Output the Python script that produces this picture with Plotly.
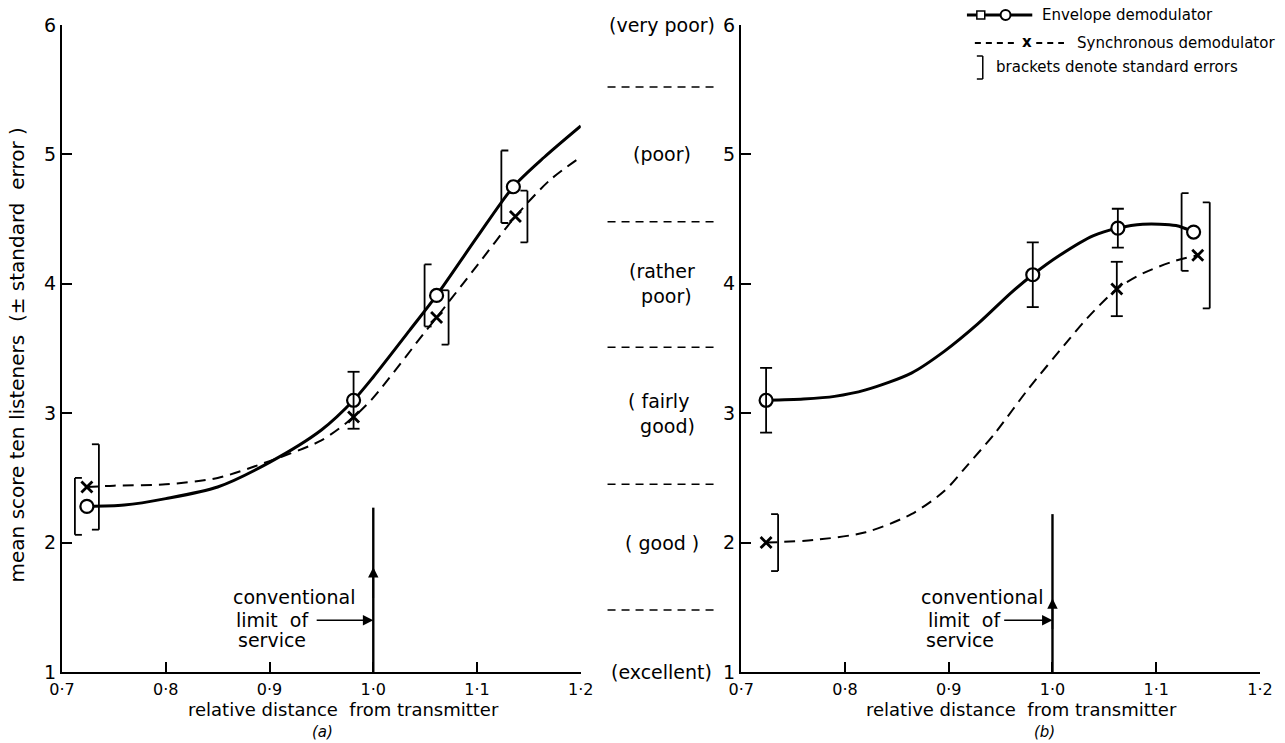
import plotly.graph_objects as go

# ---------------- data ----------------
X_TICKS = [0.7, 0.8, 0.9, 1.0, 1.1, 1.2]
X_TICK_TEXT = ["0·7", "0·8", "0·9", "1·0", "1·1", "1·2"]
Y_TICKS = [1, 2, 3, 4, 5, 6]
Y_TICK_TEXT = ["1", "2", "3", "4", "5", "6"]

SCORE_VALUES = [1, 2, 3, 4, 5, 6]
SCORE_LABELS = ["(excellent)", "( good )", "( fairly<br>  good)", "(rather<br>  poor)", "(poor)", "(very poor)"]
BAND_EDGES = [1.48, 2.45, 3.51, 4.48, 5.52]
SERVICE_LIMIT = 1.0

# panel (a): measured points (score) and standard errors
A_ENV_X = [0.724, 0.981, 1.061, 1.135]
A_ENV_Y = [2.28, 3.10, 3.91, 4.75]
A_ENV_SE = [0.22, 0.22, 0.24, 0.28]
A_SYN_X = [0.724, 0.981, 1.061, 1.137]
A_SYN_Y = [2.43, 2.97, 3.74, 4.52]
A_SYN_SE = [0.33, 0.0, 0.21, 0.20]

# panel (a): drawn smooth curves
A_ENV_CURVE_X = [0.724, 0.76, 0.80, 0.85, 0.90, 0.95, 0.981, 1.00, 1.035, 1.061, 1.10, 1.135, 1.165, 1.20]
A_ENV_CURVE_Y = [2.28, 2.29, 2.34, 2.43, 2.62, 2.87, 3.10, 3.28, 3.64, 3.91, 4.36, 4.75, 4.98, 5.22]
A_SYN_CURVE_X = [0.724, 0.75, 0.80, 0.85, 0.90, 0.95, 0.981, 1.00, 1.05, 1.061, 1.10, 1.137, 1.17, 1.20]
A_SYN_CURVE_Y = [2.43, 2.44, 2.45, 2.50, 2.63, 2.79, 2.97, 3.12, 3.63, 3.74, 4.14, 4.52, 4.80, 4.98]

# panel (b): measured points and standard errors
B_ENV_X = [0.724, 0.981, 1.063, 1.136]
B_ENV_Y = [3.10, 4.07, 4.43, 4.40]
B_ENV_SE = [0.25, 0.25, 0.15, 0.30]
B_SYN_X = [0.724, 1.062, 1.140]
B_SYN_Y = [2.00, 3.96, 4.22]
B_SYN_SE = [0.22, 0.21, 0.41]

# panel (b): drawn smooth curves
B_ENV_CURVE_X = [0.724, 0.76, 0.79, 0.82, 0.864, 0.896, 0.928, 0.96, 0.981, 1.007, 1.039, 1.063, 1.087, 1.119, 1.136]
B_ENV_CURVE_Y = [3.10, 3.11, 3.13, 3.18, 3.31, 3.48, 3.69, 3.93, 4.07, 4.22, 4.37, 4.43, 4.46, 4.45, 4.40]
B_SYN_CURVE_X = [0.724, 0.77, 0.82, 0.864, 0.896, 0.915, 0.945, 0.976, 1.017, 1.033, 1.062, 1.087, 1.119, 1.140]
B_SYN_CURVE_Y = [2.00, 2.02, 2.08, 2.22, 2.40, 2.57, 2.85, 3.18, 3.58, 3.73, 3.96, 4.08, 4.18, 4.22]

# ---------------- styles ----------------
# error-bar drawing style for each point: 'I' plain bar, '[' bracket left, ']' bracket right
A_ENV_BAR = ['[', 'I', '[', '[']
A_SYN_BAR = [']', None, ']', ']']
B_ENV_BAR = ['I', 'I', 'I', '[']
B_SYN_BAR = [']', 'I', ']']

FONT = "DejaVu Sans"
W, H = 1285, 743
ML, MR, MT, MB = 62, 13, 25, 71
PW, PH = W - ML - MR, H - MT - MB


def px_x(px):
    return (px - ML) / PW


def px_y(py):
    return (H - MB - py) / PH


fig = go.Figure()

shapes = []
annotations = []


def add_panel(xa, ya, env_cx, env_cy, syn_cx, syn_cy, env_x, env_y, syn_x, syn_y):
    fig.add_trace(go.Scatter(x=syn_cx, y=syn_cy, mode="lines", xaxis=xa, yaxis=ya,
                             line=dict(color="black", width=2.0, dash="11px,7px", shape="spline", smoothing=0.8),
                             hoverinfo="skip"))
    fig.add_trace(go.Scatter(x=env_cx, y=env_cy, mode="lines", xaxis=xa, yaxis=ya,
                             line=dict(color="black", width=3.0, shape="spline", smoothing=0.8),
                             hoverinfo="skip"))
    fig.add_trace(go.Scatter(x=syn_x, y=syn_y, mode="markers", xaxis=xa, yaxis=ya,
                             marker=dict(symbol="x-thin", size=11, line=dict(color="black", width=2.8))))
    fig.add_trace(go.Scatter(x=env_x, y=env_y, mode="markers", xaxis=xa, yaxis=ya,
                             marker=dict(symbol="circle", size=13, color="white",
                                         line=dict(color="black", width=2.2))))


def bar_shapes(xs, ys, ses, styles, xref, yref):
    for x, y, s, st in zip(xs, ys, ses, styles):
        if st is None:
            continue
        if st == "I":
            off, serif = 0, (-6, 6)
        elif st == "[":
            off, serif = -12, (-12, -5)
        else:
            off, serif = 12, (5, 12)
        base = dict(type="line", xref=xref, yref=yref, xsizemode="pixel", xanchor=x,
                    line=dict(color="black", width=1.8))
        shapes.append(dict(base, x0=off, x1=off, y0=y - s, y1=y + s))
        shapes.append(dict(base, x0=serif[0], x1=serif[1], y0=y + s, y1=y + s))
        shapes.append(dict(base, x0=serif[0], x1=serif[1], y0=y - s, y1=y - s))


add_panel("x", "y", A_ENV_CURVE_X, A_ENV_CURVE_Y, A_SYN_CURVE_X, A_SYN_CURVE_Y,
          A_ENV_X, A_ENV_Y, A_SYN_X, A_SYN_Y)
add_panel("x2", "y2", B_ENV_CURVE_X, B_ENV_CURVE_Y, B_SYN_CURVE_X, B_SYN_CURVE_Y,
          B_ENV_X, B_ENV_Y, B_SYN_X, B_SYN_Y)

bar_shapes(A_ENV_X, A_ENV_Y, A_ENV_SE, A_ENV_BAR, "x", "y")
bar_shapes(A_SYN_X, A_SYN_Y, A_SYN_SE, A_SYN_BAR, "x", "y")
bar_shapes(B_ENV_X, B_ENV_Y, B_ENV_SE, B_ENV_BAR, "x2", "y2")
bar_shapes(B_SYN_X, B_SYN_Y, B_SYN_SE, B_SYN_BAR, "x2", "y2")

# conventional limit of service markers
for xr, yr, top, head_y, arrow_from in [("x", "y", 2.27, 1.81, 0.944),
                                        ("x2", "y2", 2.22, 1.57, 0.952)]:
    shapes.append(dict(type="line", xref=xr, yref=yr, x0=SERVICE_LIMIT, x1=SERVICE_LIMIT, y0=1, y1=top,
                       line=dict(color="black", width=2.4)))
    annotations.append(dict(xref=xr, yref=yr, axref=xr, ayref=yr, x=SERVICE_LIMIT, y=head_y,
                            ax=SERVICE_LIMIT, ay=head_y - 0.25, text="", showarrow=True,
                            arrowhead=2, arrowsize=1.3, arrowwidth=1.6, arrowcolor="black"))
    annotations.append(dict(xref=xr, yref=yr, axref=xr, ayref=yr, x=SERVICE_LIMIT, y=1.40,
                            ax=arrow_from, ay=1.40, text="", showarrow=True,
                            arrowhead=2, arrowsize=1.3, arrowwidth=1.6, arrowcolor="black"))

txt_font = dict(family=FONT, size=19, color="black")
# panel (a) labels (right-aligned)
for t, xv, yv in [("conventional", 0.9846, 1.58), ("limit  of", 0.940, 1.40), ("service", 0.937, 1.25)]:
    annotations.append(dict(xref="x", yref="y", x=xv, y=yv, text=t, showarrow=False,
                            xanchor="right", yanchor="middle", font=txt_font))
# panel (b) labels (left-aligned)
for t, xv, yv in [("conventional", 0.8718, 1.58), ("limit  of", 0.878, 1.40), ("service", 0.8765, 1.25)]:
    annotations.append(dict(xref="x2", yref="y2", x=xv, y=yv, text=t, showarrow=False,
                            xanchor="left", yanchor="middle", font=txt_font))

# rating scale in the gap between the panels
for lab, v in zip(SCORE_LABELS, SCORE_VALUES):
    annotations.append(dict(xref="paper", yref="y", x=px_x(668), y=v, text=lab, showarrow=False,
                            xanchor="center", yanchor="middle", align="left", font=txt_font))
for e in BAND_EDGES:
    shapes.append(dict(type="line", xref="paper", yref="y", x0=px_x(613), x1=px_x(722), y0=e, y1=e,
                       line=dict(color="black", width=1.5, dash="8px,6px")))

# axis titles
annotations.append(dict(xref="paper", yref="paper", x=px_x(17), y=px_y(355), textangle=-90,
                        text="mean score ten listeners  (± standard  error )", showarrow=False,
                        xanchor="center", yanchor="middle", font=dict(family=FONT, size=20, color="black")))
title_font = dict(family=FONT, size=18, color="black")
for cx in [346, 1031]:
    annotations.append(dict(xref="paper", yref="paper", x=px_x(cx), y=px_y(709),
                            text="relative distance  from transmitter",
                            showarrow=False, xanchor="center", yanchor="middle", font=title_font))
sub_font = dict(family=FONT, size=15, color="black")
annotations.append(dict(xref="paper", yref="paper", x=px_x(325), y=px_y(732), text="<i>(a)</i>",
                        showarrow=False, xanchor="center", yanchor="middle", font=sub_font))
annotations.append(dict(xref="paper", yref="paper", x=px_x(1054), y=px_y(732), text="<i>(b)</i>",
                        showarrow=False, xanchor="center", yanchor="middle", font=sub_font))

# key (top right)
leg_font = dict(family=FONT, size=15, color="black")
shapes.append(dict(type="line", xref="paper", yref="paper", x0=px_x(976), x1=px_x(1042),
                   y0=px_y(15), y1=px_y(15), line=dict(color="black", width=3)))
shapes.append(dict(type="rect", xref="paper", yref="paper", x0=px_x(986), x1=px_x(994),
                   y0=px_y(19), y1=px_y(11), fillcolor="white", line=dict(color="black", width=1.5)))
shapes.append(dict(type="circle", xref="paper", yref="paper", x0=px_x(1010), x1=px_x(1020),
                   y0=px_y(20), y1=px_y(10), fillcolor="white", line=dict(color="black", width=2)))
annotations.append(dict(xref="paper", yref="paper", x=px_x(1050), y=px_y(15), text="Envelope demodulator",
                        showarrow=False, xanchor="left", yanchor="middle", font=leg_font))
for a0, a1 in [(984, 1026), (1046, 1074)]:
    shapes.append(dict(type="line", xref="paper", yref="paper", x0=px_x(a0), x1=px_x(a1),
                       y0=px_y(43), y1=px_y(43), line=dict(color="black", width=2, dash="6px,5px")))
annotations.append(dict(xref="paper", yref="paper", x=px_x(1037), y=px_y(42), text="<b>x</b>",
                        showarrow=False, xanchor="center", yanchor="middle", font=leg_font))
annotations.append(dict(xref="paper", yref="paper", x=px_x(1085), y=px_y(43), text="Synchronous demodulator",
                        showarrow=False, xanchor="left", yanchor="middle", font=leg_font))
for seg in [((992, 56), (992, 79)), ((986, 56), (992, 56)), ((986, 79), (992, 79))]:
    shapes.append(dict(type="line", xref="paper", yref="paper", x0=px_x(seg[0][0]), x1=px_x(seg[1][0]),
                       y0=px_y(seg[0][1]), y1=px_y(seg[1][1]), line=dict(color="black", width=1.5)))
annotations.append(dict(xref="paper", yref="paper", x=px_x(1003), y=px_y(67),
                        text="brackets denote standard errors",
                        showarrow=False, xanchor="left", yanchor="middle", font=leg_font))

axis_common = dict(ticks="inside", ticklen=10, tickwidth=1.6, tickcolor="black", showline=True,
                   linecolor="black", linewidth=2.4, showgrid=False, zeroline=False, mirror=False)
xcommon = dict(axis_common, range=[0.7, 1.2], tickvals=X_TICKS, ticktext=X_TICK_TEXT,
               tickfont=dict(family=FONT, size=16, color="black"), ticklabelstandoff=2)
ycommon = dict(axis_common, range=[1, 6], tickvals=Y_TICKS, ticktext=Y_TICK_TEXT,
               tickfont=dict(family=FONT, size=19, color="black"), ticklabelstandoff=0)

fig.update_layout(
    width=W, height=H,
    margin=dict(l=ML, r=MR, t=MT, b=MB),
    paper_bgcolor="white", plot_bgcolor="white",
    showlegend=False,
    font=dict(family=FONT, size=19, color="black"),
    xaxis=dict(xcommon, domain=[0, px_x(586)], anchor="y"),
    yaxis=dict(ycommon, anchor="x"),
    xaxis2=dict(xcommon, domain=[px_x(748), 1], anchor="y2"),
    yaxis2=dict(ycommon, anchor="x2"),
    shapes=shapes,
    annotations=annotations,
)

fig.write_html("out.html", config={"displayModeBar": False},
               post_script="document.body.style.margin='0px';")
